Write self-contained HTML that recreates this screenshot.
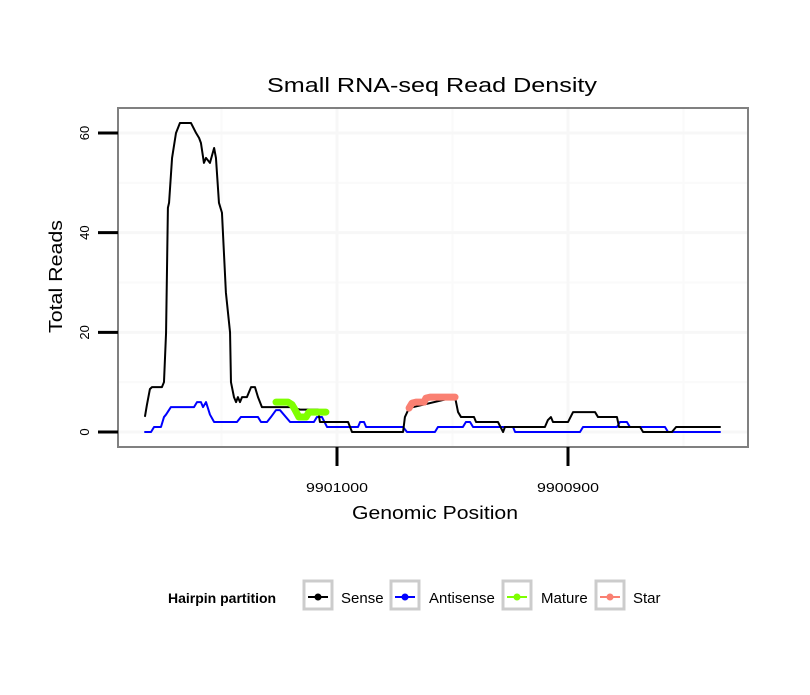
<!DOCTYPE html>
<html><head><meta charset="utf-8"><style>
body{margin:0;background:#fff;font-family:"Liberation Sans",sans-serif}
svg text{font-family:"Liberation Sans",sans-serif}
</style></head><body>
<svg id="chart" width="810" height="690" xmlns="http://www.w3.org/2000/svg">
<rect width="810" height="690" fill="#fff"/>
<text x="267" y="92" font-size="20" textLength="330" lengthAdjust="spacingAndGlyphs">Small RNA-seq Read Density</text>
<g id="grid"></g>
<g id="series"></g>
<rect x="118" y="108" width="630" height="339" fill="none" stroke="#808080" stroke-width="2"/>
<g id="axes"></g>
<text x="352" y="519" font-size="18" textLength="166" lengthAdjust="spacingAndGlyphs">Genomic Position</text>
<text transform="translate(62,333) rotate(-90)" font-size="18" textLength="113" lengthAdjust="spacingAndGlyphs">Total Reads</text>
<g>
<text x="168" y="603" font-size="14" font-weight="bold">Hairpin partition</text>
<g><rect x="304" y="581" width="28" height="28" fill="#fff" stroke="#ccc" stroke-width="3"/><line x1="308" y1="597" x2="328" y2="597" stroke="#000" stroke-width="2"/><circle cx="318" cy="597" r="3.5" fill="#000"/><text x="341" y="603" font-size="15">Sense</text></g>
<g><rect x="391" y="581" width="28" height="28" fill="#fff" stroke="#ccc" stroke-width="3"/><line x1="395" y1="597" x2="415" y2="597" stroke="#0000ff" stroke-width="2"/><circle cx="405" cy="597" r="3.5" fill="#0000ff"/><text x="429" y="603" font-size="15">Antisense</text></g>
<g><rect x="503" y="581" width="28" height="28" fill="#fff" stroke="#ccc" stroke-width="3"/><line x1="507" y1="597" x2="527" y2="597" stroke="#7fff00" stroke-width="2"/><circle cx="517" cy="597" r="3.5" fill="#7fff00"/><text x="541" y="603" font-size="15">Mature</text></g>
<g><rect x="596" y="581" width="28" height="28" fill="#fff" stroke="#ccc" stroke-width="3"/><line x1="600" y1="597" x2="620" y2="597" stroke="#fa8072" stroke-width="2"/><circle cx="610" cy="597" r="3.5" fill="#fa8072"/><text x="633" y="603" font-size="15">Star</text></g>
</g>
</svg>
<script>
const yTicks=[0,20,40,60];
const yMinor=[10,30,50];
const xTicks=[9901000,9900900];
const xTickLabels=["9901000","9900900"];
const xMinor=[9901050,9900950,9900850];
const senseX=[9901083.1,9901082.3,9901081.0,9901080.1,9901075.8,9901074.9,9901074.0,9901073.2,9901072.7,9901071.4,9901069.7,9901068.0,9901063.2,9901061.0,9901059.7,9901058.9,9901057.6,9901056.7,9901055.0,9901053.2,9901052.4,9901051.1,9901049.8,9901048.1,9901046.3,9901045.9,9901044.6,9901043.7,9901042.9,9901042.0,9901041.1,9901039.0,9901037.2,9901035.5,9901034.2,9901032.5,9901020.3,9901016.0,9901008.2,9901007.4,9900995.2,9900993.5,9900971.4,9900970.6,9900968.8,9900948.9,9900947.6,9900946.3,9900940.7,9900939.8,9900930.3,9900928.1,9900927.3,9900910.0,9900908.7,9900907.4,9900906.5,9900900.0,9900897.8,9900888.3,9900887.0,9900878.8,9900877.9,9900868.8,9900867.5,9900855.0,9900853.2,9900834.2];
const senseY=[3.2,5.4,8.6,9,9,10,19.9,45,46,55,60,62,62,60,59,58,54,55,54,57,55,46,44,28,20,10,7,6,7,6,7,7,9,9,7,5,5,4.5,4.5,2,2,0,0,3,4.8,7,4,3,3,2,2,0,1,1,2.4,3,2,2,4,4,3,3,1,1,0,0,1,1];
const antiX=[9901083.1,9901080.5,9901079.2,9901076.2,9901074.9,9901074.0,9901071.9,9901061.9,9901060.6,9901058.9,9901058.0,9901056.7,9901055.0,9901053.2,9901043.3,9901041.6,9901034.2,9901032.9,9901030.3,9901028.6,9901026.4,9901024.7,9901020.3,9901010.0,9901008.7,9901006.5,9901004.3,9900990.9,9900990.0,9900988.3,9900987.4,9900971.4,9900969.7,9900957.6,9900956.3,9900945.5,9900944.2,9900942.4,9900941.1,9900923.8,9900922.9,9900894.8,9900893.5,9900878.8,9900877.5,9900874.5,9900873.2,9900858.0,9900856.7,9900834.2];
const antiY=[0,0,1,1,3,3.5,5,5,6,6,5,6,3.5,2,2,3,3,2,2,3,4.4,4.4,2,2,3,3,1,1,2,2,1,1,0,0,1,1,2,2,1,1,0,0,1,1,2,2,1,1,0,0];
const matureX=[9901026.4,9901021.2,9901019.5,9901018.2,9901016.5,9901013.4,9901012.1,9901004.8];
const matureY=[6,6,5.5,4.5,3,3,4,4];
const starX=[9900968.8,9900967.5,9900965.8,9900962.3,9900961.5,9900959.7,9900948.9];
const starY=[4.8,5.8,6,6,6.8,7,7];

const NS="http://www.w3.org/2000/svg";
const sx=v=>337+(9901000-v)*2.31;
const sy=v=>432-v*4.983;
function mk(tag,attrs,parent){const e=document.createElementNS(NS,tag);for(const k in attrs)e.setAttribute(k,attrs[k]);parent.appendChild(e);return e;}
const grid=document.getElementById('grid'),axes=document.getElementById('axes'),ser=document.getElementById('series');
yMinor.forEach(v=>{const l=mk('line',{x1:118,x2:748,y1:sy(v),y2:sy(v),stroke:'#fafafa','stroke-width':2},grid);

});
xMinor.forEach(v=>{const l=mk('line',{x1:sx(v),x2:sx(v),y1:108,y2:447,stroke:'#fafafa','stroke-width':2},grid);

});
yTicks.forEach(v=>{const l=mk('line',{x1:118,x2:748,y1:sy(v),y2:sy(v),stroke:'#f7f7f7','stroke-width':3},grid);


const t=mk('line',{x1:98,x2:118,y1:sy(v),y2:sy(v),stroke:'#000','stroke-width':3},axes);


const tx=mk('text',{transform:`translate(89,${sy(v)}) rotate(-90)`,'font-size':13,'text-anchor':'middle'},axes);tx.textContent=v;

});
xTicks.forEach((v,i)=>{const l=mk('line',{x1:sx(v),x2:sx(v),y1:108,y2:447,stroke:'#f7f7f7','stroke-width':3},grid);


const t=mk('line',{x1:sx(v),x2:sx(v),y1:447,y2:466,stroke:'#000','stroke-width':3},axes);


const tx=mk('text',{x:sx(v)-31,y:492,'font-size':13,textLength:62,lengthAdjust:'spacingAndGlyphs'},axes);tx.textContent=xTickLabels[i];

});
function line(xs,ys,color,w,name){const p=mk('polyline',{points:xs.map((x,i)=>sx(x)+','+sy(ys[i])).join(' '),fill:'none',stroke:color,'stroke-width':w,'stroke-linejoin':'round','stroke-linecap':'round'},ser);

}
line(antiX,antiY,'#0000ff',2,'antisense-line');
line(senseX,senseY,'#000',2,'sense-line');
line(matureX,matureY,'#7fff00',7,'mature-line');
line(starX,starY,'#fa8072',7,'star-line');
</script>
</body></html>
